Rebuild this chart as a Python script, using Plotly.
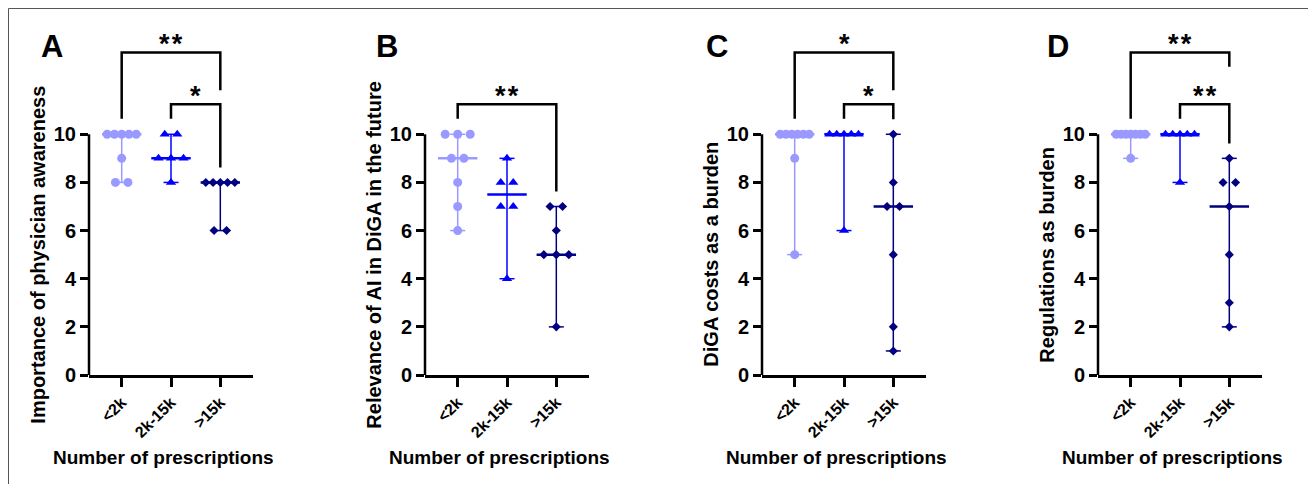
import plotly.graph_objects as go

# ---------------- data ----------------
groups = ["<2k", "2k-15k", ">15k"]
panel_letters = ["A", "B", "C", "D"]
y_titles = [
    "Importance of physician awareness",
    "Relevance of AI in DiGA in the future",
    "DiGA costs as a burden",
    "Regulations as burden",
]
x_title = "Number of prescriptions"

A_lt2k = [10, 10, 10, 10, 10, 9, 8, 8]
A_2k15k = [10, 10, 9, 9, 9, 8]
A_gt15k = [8, 8, 8, 8, 8, 6, 6]

B_lt2k = [10, 10, 10, 9, 9, 8, 7, 6]
B_2k15k = [9, 8, 8, 7, 7, 4]
B_gt15k = [7, 7, 6, 5, 5, 5, 2]

C_lt2k = [10, 10, 10, 10, 10, 10, 9, 5]
C_2k15k = [10, 10, 10, 10, 10, 6]
C_gt15k = [10, 8, 7, 7, 5, 2, 1]

D_lt2k = [10, 10, 10, 10, 10, 10, 10, 9]
D_2k15k = [10, 10, 10, 10, 10, 8]
D_gt15k = [9, 8, 8, 7, 5, 3, 2]

# significance comparisons: (group_a, group_b, label, level)
A_sig = [(0, 2, "**", 2), (1, 2, "*", 1)]
B_sig = [(0, 2, "**", 1)]
C_sig = [(0, 2, "*", 2), (1, 2, "*", 1)]
D_sig = [(0, 2, "**", 2), (1, 2, "**", 1)]

panels = [
    [A_lt2k, A_2k15k, A_gt15k],
    [B_lt2k, B_2k15k, B_gt15k],
    [C_lt2k, C_2k15k, C_gt15k],
    [D_lt2k, D_2k15k, D_gt15k],
]
sigs = [A_sig, B_sig, C_sig, D_sig]

# ---------------- style ----------------
OFF = 8  # page body margin of the browser
W, H = 1316 - 2 * OFF, 503 - 2 * OFF
FONT = "Arial, 'Liberation Sans', sans-serif"
colors = ["#9999FF", "#0000FF", "#000080"]
symbols = ["circle", "triangle-up", "diamond"]
msizes = [9, 9, 7]
axis_left_px = [89, 425, 762, 1098]   # page pixels
axis_width_px = 164
letter_px = [39, 374, 704, 1045]
y0_px, px_per_unit = 383.5, 24.63
YMAX = 15
xr = [-0.663, 2.663]
px_per_cat = axis_width_px / (xr[1] - xr[0])


def px2x(px):
    return (px - OFF) / W


def px2y(py):
    return (H - (py - OFF)) / H


ydom = [px2y(y0_px), px2y(y0_px - YMAX * px_per_unit)]
level_y = {1: 11.25, 2: 13.4}


def median(v):
    s = sorted(v)
    n = len(s)
    return s[n // 2] if n % 2 else (s[n // 2 - 1] + s[n // 2]) / 2


def spread(values, center):
    xs, ys = [], []
    counts = {}
    for v in values:
        counts[v] = counts.get(v, 0) + 1
    for v, n in counts.items():
        sp = 12.5 if n <= 3 else min(12.5, 29.0 / (n - 1))
        for k in range(n):
            off = (k - (n - 1) / 2) * sp / px_per_cat
            xs.append(center + off)
            ys.append(v)
    return xs, ys


def star_text(lab):
    return "\u200a".join(lab)


fig = go.Figure()
annotations = []
shapes = []

for p, data in enumerate(panels):
    xa = "x" if p == 0 else f"x{p + 1}"
    ya = "y" if p == 0 else f"y{p + 1}"
    # median / range lines
    for g, vals in enumerate(data):
        lo, hi, med = min(vals), max(vals), median(vals)
        cw = 7.5 / px_per_cat
        fig.add_trace(go.Scatter(
            x=[g, g, None, g - cw, g + cw, None, g - cw, g + cw],
            y=[lo, hi, None, lo, lo, None, hi, hi],
            mode="lines", line=dict(color=colors[g], width=1.5),
            xaxis=xa, yaxis=ya, showlegend=False, hoverinfo="skip"))
        fig.add_trace(go.Scatter(
            x=[g - 0.4, g + 0.4], y=[med, med],
            mode="lines", line=dict(color=colors[g], width=2.5),
            xaxis=xa, yaxis=ya, showlegend=False, hoverinfo="skip"))
    for g, vals in enumerate(data):
        xs, ys = spread(vals, g)
        fig.add_trace(go.Scatter(
            x=xs, y=ys, mode="markers",
            marker=dict(symbol=symbols[g], size=msizes[g], color=colors[g], line=dict(width=0)),
            xaxis=xa, yaxis=ya, showlegend=False, cliponaxis=False))
    # significance brackets
    lower = {}
    for (ga, gb, lab, lev) in sorted(sigs[p], key=lambda s: s[3]):
        yb = level_y[lev]
        la = max(data[ga]) + 0.65
        if lev == 1 or not lower:
            lb = max(data[gb]) + 0.62
        else:
            ly, llab = lower[gb]
            lb = ly + (1.55 if len(llab) > 1 else 0.58)
        lower[gb] = (yb, lab)
        fig.add_trace(go.Scatter(
            x=[ga, ga, gb, gb], y=[la, yb, yb, lb], mode="lines",
            line=dict(color="black", width=2.5),
            xaxis=xa, yaxis=ya, showlegend=False, hoverinfo="skip"))
        annotations.append(dict(
            x=(ga + gb) / 2, y=yb + 0.36, xref=xa, yref=ya, text=star_text(lab),
            showarrow=False, yanchor="middle", xanchor="center",
            font=dict(family=FONT, size=27, color="black", weight="bold")))
    # custom y axis line (0..10)
    shapes.append(dict(type="line", xref=f"{xa} domain", yref=ya, x0=0, x1=0, y0=0, y1=10,
                       line=dict(color="black", width=2.5)))
    # axes
    d0 = px2x(axis_left_px[p])
    d1 = px2x(axis_left_px[p] + axis_width_px)
    fig.update_layout({
        f"xaxis{'' if p == 0 else p + 1}": dict(
            domain=[d0, d1], range=xr, tickvals=[0, 1, 2], ticktext=groups,
            tickangle=-45, ticks="outside", ticklen=9, tickwidth=2.5, tickcolor="black",
            showline=True, linewidth=2.5, linecolor="black", showgrid=False, zeroline=False,
            anchor=ya, tickfont=dict(family=FONT, size=16, color="black", weight="bold")),
        f"yaxis{'' if p == 0 else p + 1}": dict(
            domain=ydom, range=[0, YMAX], tickvals=[0, 2, 4, 6, 8, 10],
            ticks="outside", ticklen=8, tickwidth=2.5, tickcolor="black",
            showline=False, showgrid=False, zeroline=False, anchor=xa,
            tickfont=dict(family=FONT, size=20, color="black", weight="bold")),
    })
    # y title
    annotations.append(dict(
        x=px2x(axis_left_px[p] - 51), y=px2y(y0_px - 5 * px_per_unit),
        xref="paper", yref="paper", text=y_titles[p], textangle=-90,
        showarrow=False, xanchor="center", yanchor="middle",
        font=dict(family=FONT, size=20, color="black", weight="bold")))
    # x title
    annotations.append(dict(
        x=px2x(axis_left_px[p] + axis_width_px / 2 - 8), y=px2y(468),
        xref="paper", yref="paper", text=x_title, showarrow=False,
        xanchor="center", yanchor="middle",
        font=dict(family=FONT, size=19, color="black", weight="bold")))
    # panel letter
    annotations.append(dict(
        x=px2x(letter_px[p]), y=px2y(47), xref="paper", yref="paper",
        text=panel_letters[p], showarrow=False, xanchor="left", yanchor="middle",
        font=dict(family=FONT, size=31, color="black", weight="bold")))

# frame (top and left edges)
shapes.append(dict(type="line", xref="paper", yref="paper", x0=px2x(8.5), x1=1, y0=px2y(8.5), y1=px2y(8.5),
                   line=dict(color="#555555", width=1)))
shapes.append(dict(type="line", xref="paper", yref="paper", x0=px2x(8.5), x1=px2x(8.5), y0=0, y1=px2y(8.5),
                   line=dict(color="#555555", width=1)))

fig.update_layout(
    width=W, height=H, margin=dict(l=0, r=0, t=0, b=0),
    paper_bgcolor="white", plot_bgcolor="white",
    annotations=annotations, shapes=shapes,
    font=dict(family=FONT, color="black"),
)
fig.write_html("out.html")
